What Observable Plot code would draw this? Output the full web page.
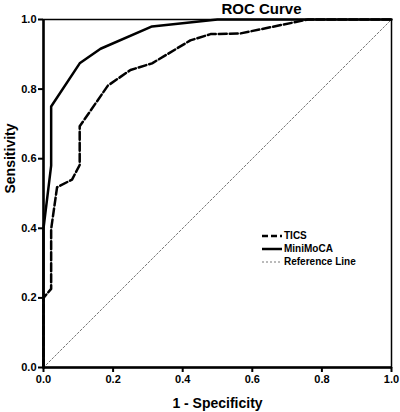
<!DOCTYPE html>
<html>
<head>
<meta charset="utf-8">
<script src="https://cdn.jsdelivr.net/npm/d3@7"></script>
<script src="https://cdn.jsdelivr.net/npm/@observablehq/plot@0.6"></script>
<style>
  html, body { margin: 0; padding: 0; background: #fff; }
  #wrap { position: relative; width: 400px; height: 412px; font-family: "Liberation Sans", Arial, sans-serif; }
  #legend { position: absolute; left: 262px; top: 229px; font-size: 10px; font-weight: bold; color: #000; line-height: 13px; }
  #legend div { display: flex; align-items: center; height: 13px; }
  #legend svg { margin-right: 2px; }
</style>
</head>
<body>
<div id="wrap"></div>
<script>
// Data
const seriesNames = ["TICS", "MiniMoCA", "Reference Line"];
const ticsFpr = [0, 0, 0.022, 0.022, 0.039, 0.082, 0.104, 0.104, 0.185, 0.25, 0.312, 0.422, 0.48, 0.566, 0.76, 1];
const ticsTpr = [0, 0.2, 0.226, 0.398, 0.518, 0.54, 0.582, 0.693, 0.81, 0.855, 0.874, 0.94, 0.958, 0.96, 1, 1];
const minimocaFpr = [0, 0, 0.022, 0.022, 0.104, 0.164, 0.312, 0.5, 1];
const minimocaTpr = [0, 0.40, 0.58, 0.75, 0.874, 0.916, 0.98, 1, 1];
const refFpr = [0, 1];
const refTpr = [0, 1];
const tickValues = [0, 0.2, 0.4, 0.6, 0.8, 1.0];
const tickLabels = ["0.0", "0.2", "0.4", "0.6", "0.8", "1.0"];
const titleText = "ROC Curve";
const xLabel = "1 - Specificity";
const yLabel = "Sensitivity";

const toPts = (xs, ys) => xs.map((x, i) => ({x, y: ys[i]}));
const tics = toPts(ticsFpr, ticsTpr);
const mini = toPts(minimocaFpr, minimocaTpr);
const ref = toPts(refFpr, refTpr);

const chart = Plot.plot({
  width: 400,
  height: 412,
  marginLeft: 43,
  marginRight: 9,
  marginTop: 19,
  marginBottom: 45,
  x: {domain: [0, 1]},
  y: {domain: [0, 1]},
  style: {fontFamily: "'Liberation Sans', Arial, sans-serif", fontWeight: "bold", fontSize: "11px", background: "#fff", color: "#000"},
  marks: [
    Plot.frame({stroke: "#000", strokeWidth: 1.5}),
    Plot.line(ref, {x: "x", y: "y", stroke: "#777", strokeWidth: 1, strokeDasharray: "2,2"}),
    Plot.line(tics, {x: "x", y: "y", stroke: "#000", strokeWidth: 2.5, strokeDasharray: "8,3"}),
    Plot.line(mini, {x: "x", y: "y", stroke: "#000", strokeWidth: 2.5}),
    Plot.ruleX([0], {stroke: "#000", strokeWidth: 2.5}),
    Plot.ruleY([0], {stroke: "#000", strokeWidth: 2.5}),
    Plot.axisX({ticks: tickValues, tickSize: 5, tickPadding: 3, strokeWidth: 2, tickFormat: (d, i) => tickLabels[i], label: null, fontWeight: "bold"}),
    Plot.axisY({ticks: tickValues, tickSize: 5, tickPadding: 2, strokeWidth: 2, tickFormat: (d, i) => tickLabels[i], label: null, fontWeight: "bold"}),
    Plot.text([titleText], {frameAnchor: "top", dx: 44, dy: -10, lineAnchor: "middle", fontSize: 15, fontWeight: "bold"}),
    Plot.text([xLabel], {frameAnchor: "bottom", dy: 36, lineAnchor: "middle", fontSize: 14, fontWeight: "bold"}),
    Plot.text([yLabel], {frameAnchor: "left", dx: -33, rotate: -90, lineAnchor: "middle", fontSize: 14, fontWeight: "bold"})
  ]
});

const wrap = document.getElementById("wrap");
wrap.appendChild(chart);

// Legend overlay
const legend = document.createElement("div");
legend.id = "legend";
const styles = [
  {stroke: "#000", width: 2.5, dash: "6,3"},
  {stroke: "#000", width: 2.5, dash: null},
  {stroke: "#777", width: 1, dash: "2,2"}
];
seriesNames.forEach((name, i) => {
  const s = styles[i];
  const row = document.createElement("div");
  row.innerHTML = `<svg width="20" height="6"><line x1="0" y1="3" x2="20" y2="3" stroke="${s.stroke}" stroke-width="${s.width}" ${s.dash ? `stroke-dasharray="${s.dash}"` : ""}/></svg><span>${name}</span>`;
  legend.appendChild(row);
});
wrap.appendChild(legend);
</script>
</body>
</html>
